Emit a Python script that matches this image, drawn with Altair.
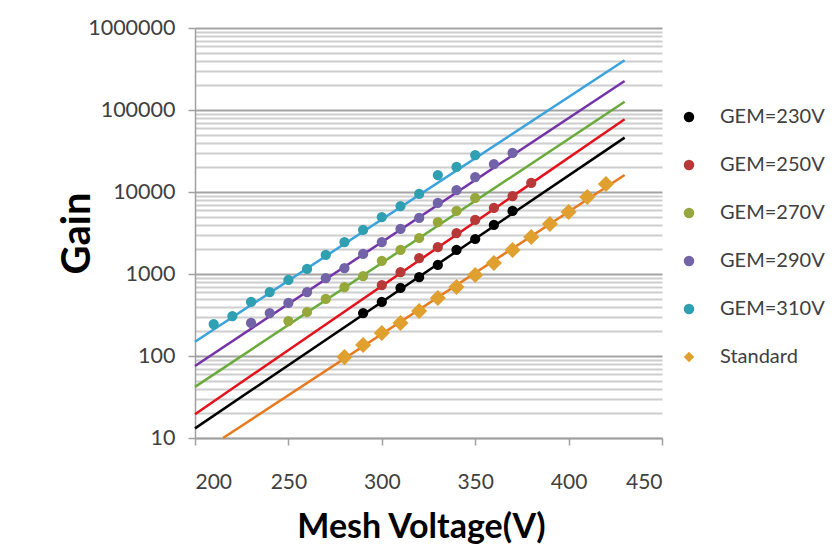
import altair as alt
import pandas as pd

# ---- data ----
series_names = ["GEM=230V", "GEM=250V", "GEM=270V", "GEM=290V", "GEM=310V", "Standard"]

v230 = [290, 300, 310, 320, 330, 340, 350, 360, 370]
g230 = [334, 456, 675, 919, 1288, 1963, 2672, 3960, 5866]

v250 = [300, 310, 320, 330, 340, 350, 360, 370, 380]
g250 = [734, 1057, 1567, 2134, 3162, 4560, 6383, 8935, 12880]

v270 = [250, 260, 270, 280, 290, 300, 310, 320, 330, 340, 350]
g270 = [267, 344, 496, 694, 945, 1442, 1963, 2748, 4305, 5866, 8450]

v290 = [230, 240, 250, 260, 270, 280, 290, 300, 310, 320, 330, 340, 350, 360, 370]
g290 = [253, 334, 443, 603, 893, 1183, 1754, 2455, 3540, 4820, 7350, 10570, 15230, 21940, 29900]

v310 = [210, 220, 230, 240, 250, 260, 270, 280, 290, 300, 310, 320, 330, 340, 350]
g310 = [245, 307, 456, 603, 845, 1151, 1706, 2455, 3443, 4955, 6745, 9462, 16100, 20180, 28240]

vstd = [280, 290, 300, 310, 320, 330, 340, 350, 360, 370, 380, 390, 400, 410, 420]
gstd = [97, 136, 191, 253, 354, 509, 694, 972, 1362, 1963, 2826, 4070, 5700, 8690, 12530]

# exponential trend lines (straight on log axis): start / end
fit_v = {
    "GEM=230V": [200, 430], "GEM=250V": [200, 430], "GEM=270V": [200, 430],
    "GEM=290V": [200, 430], "GEM=310V": [200, 430], "Standard": [215, 430],
}
fit_g = {
    "GEM=230V": [13.1, 46000], "GEM=250V": [19.5, 77000], "GEM=270V": [42, 126000],
    "GEM=290V": [75.5, 226000], "GEM=310V": [149, 404000], "Standard": [10, 16100],
}

x_ticks = [200, 250, 300, 350, 400, 450]
y_decades = [10, 100, 1000, 10000, 100000, 1000000]
y_grid = [m * d for d in [10, 100, 1000, 10000, 100000] for m in range(1, 10)] + [1000000]

line_colors = ["#000000", "#e3121b", "#6aab3c", "#7434a8", "#3aa3dc", "#e87a1e"]
marker_colors = ["#000000", "#b83838", "#97a83a", "#7262a8", "#2f9fb2", "#dfa030"]
marker_shapes = ["circle", "circle", "circle", "circle", "circle", "diamond"]

# ---- tables ----
pts = []
for name, vs, gs in zip(series_names, [v230, v250, v270, v290, v310, vstd],
                        [g230, g250, g270, g290, g310, gstd]):
    for v, g in zip(vs, gs):
        pts.append({"series": name, "v": v, "g": g})
pts = pd.DataFrame(pts)

trend_names = [n + " trend" for n in series_names]
lines = []
for name, tname in zip(series_names, trend_names):
    for v, g in zip(fit_v[name], fit_g[name]):
        lines.append({"trend": tname, "v": v, "g": g})
lines = pd.DataFrame(lines)

FONT = "Lato"
dec_test = "indexof(" + str(y_decades) + ", datum.value) >= 0"

x_enc = alt.X("v:Q", scale=alt.Scale(domain=[200, 450], nice=False),
              axis=alt.Axis(values=x_ticks, grid=False, title="Mesh Voltage(V)",
                            labelFont=FONT, labelFontSize=21, labelColor="#404040",
                            labelPadding=26, tickSize=7, tickColor="#a0a0a0",
                            domainColor="#a0a0a0", domainWidth=1.5, tickWidth=1.5,
                            titleFont=FONT, titleFontSize=34, titleFontWeight="bold",
                            titleColor="#000000", titleBaseline="alphabetic",
                            titleX=226, titleY=99, titleAnchor="middle"))
y_enc = alt.Y("g:Q", scale=alt.Scale(type="log", domain=[10, 1000000], nice=False),
              axis=alt.Axis(values=y_grid, title="Gain",
                            labelExpr=dec_test + " ? (datum.value + '') : ''",
                            labelFont=FONT, labelFontSize=21.5, labelColor="#404040",
                            labelPadding=13, tickSize=7, tickColor="#a0a0a0",
                            tickOpacity={"condition": {"test": dec_test, "value": 1}, "value": 0},
                            domainColor="#a0a0a0", domainWidth=1.5, tickWidth=1.5,
                            grid=True,
                            gridColor={"condition": {"test": dec_test, "value": "#a4a4a4"}, "value": "#cecece"},
                            gridWidth=1.8,
                            titleFont=FONT, titleFontSize=40, titleFontWeight="bold",
                            titleColor="#000000", titleBaseline="alphabetic",
                            titleX=-106, titleY=205, titleAngle=-90, titleAnchor="middle"))

legend_props = dict(title=None, orient="none", legendX=484, legendY=79, padding=0,
                    labelFont=FONT, labelFontSize=20, labelColor="#404040",
                    symbolSize=110, labelOffset=21, rowPadding=28, symbolStrokeWidth=0)

fill_enc = alt.Fill("series:N", scale=alt.Scale(domain=series_names, range=marker_colors),
                    legend=alt.Legend(**legend_props))
shape_enc = alt.Shape("series:N", scale=alt.Scale(domain=series_names, range=marker_shapes),
                      legend=alt.Legend(**legend_props))

line_layer = alt.Chart(lines).mark_line(strokeWidth=2.5).encode(
    x=x_enc, y=y_enc,
    stroke=alt.Stroke("trend:N", scale=alt.Scale(domain=trend_names, range=line_colors), legend=None),
    detail="trend:N",
)

circle_layer = alt.Chart(pts).transform_filter(
    alt.datum.series != "Standard"
).mark_point(filled=True, opacity=1, strokeWidth=0, size=105).encode(
    x=x_enc, y=y_enc, fill=fill_enc, shape=shape_enc,
)

diamond_layer = alt.Chart(pts).transform_filter(
    alt.datum.series == "Standard"
).mark_point(filled=True, opacity=1, strokeWidth=0, size=260).encode(
    x=x_enc, y=y_enc, fill=fill_enc, shape=shape_enc,
)

chart = alt.layer(line_layer, circle_layer, diamond_layer).properties(
    width=467, height=410,
    autosize=alt.AutoSizeParams(type="none"),
    padding={"left": 187, "top": 20, "right": 164, "bottom": 106},
).configure_view(stroke=None)

chart.save("out.html", embed_options={"renderer": "svg", "actions": False})
